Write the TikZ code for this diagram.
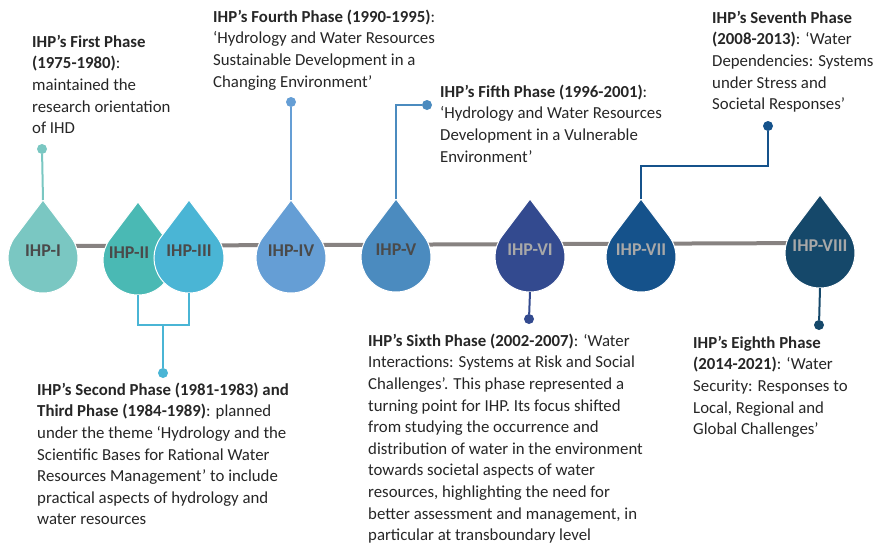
\documentclass[tikz,border=0pt]{standalone}
\usepackage{fontspec}
\setmainfont{Carlito}
\tikzset{
  bodytext/.style={anchor=north west, align=left, inner sep=0pt, text=black!85,
    font=\fontsize{16.8}{21.6}\selectfont},
  droplabel/.style={inner sep=0pt, text=#1, font=\bfseries\fontsize{18}{20}\selectfont},
  pin/.style={circle, fill=#1, inner sep=0pt, minimum size=10pt},
  link/.style={draw=#1, line width=2pt},
  pics/drop/.style={code={
    \fill[#1, draw=white, line width=1pt] (0,-58) -- (27.9,-21.1)
      arc[start angle=-37.1, end angle=217.1, radius=35] -- cycle;
    \coordinate (-c) at (0,-7);
    \coordinate (-tip) at (0,-58);
    \coordinate (-bot) at (0,35);
  }}
}
\newcommand{\firstline}{\rule{0pt}{14pt}}
\begin{document}
\begin{tikzpicture}[x=1pt, y=-1pt]
\useasboundingbox (0,0) rectangle (886,544);
\definecolor{colI}{HTML}{7AC7C2}
\definecolor{colII}{HTML}{4AB9B4}
\definecolor{colIII}{HTML}{4AB5D5}
\definecolor{colIV}{HTML}{659ED5}
\definecolor{colV}{HTML}{4B8BBF}
\definecolor{colVI}{HTML}{334A8F}
\definecolor{colVII}{HTML}{15528B}
\definecolor{colVIII}{HTML}{15486A}
\definecolor{darklbl}{HTML}{4A4A4A}
\definecolor{lightlbl}{HTML}{A8A8A8}
\definecolor{barcol}{HTML}{878281}
% timeline bar
\coordinate (barL) at (43,246);
\coordinate (barR) at (820,243);
\draw[barcol, line width=4pt] (barL) -- (barR);
% drops
\pic (d1) at (43,258) {drop=colI};
\pic (d2) at (138,260) {drop=colII};
\pic (d3) at (189,258) {drop=colIII};
\pic (d4) at (291,258) {drop=colIV};
\pic (d5) at (396,257) {drop=colV};
\pic (d6) at (530,257) {drop=colVI};
\pic (d7) at (641,257) {drop=colVII};
\pic (d8) at (820,253) {drop=colVIII};
% drop labels
\node[droplabel=darklbl] (l1) at (d1-c) {IHP-I};
\node[droplabel=darklbl, xshift=-9pt] (l2) at (d2-c) {IHP-II};
\node[droplabel=darklbl] (l3) at (d3-c) {IHP-III};
\node[droplabel=darklbl] (l4) at (d4-c) {IHP-IV};
\node[droplabel=darklbl] (l5) at (d5-c) {IHP-V};
\node[droplabel=lightlbl] (l6) at (d6-c) {IHP-VI};
\node[droplabel=lightlbl] (l7) at (d7-c) {IHP-VII};
\node[droplabel=lightlbl] (l8) at (d8-c) {IHP-VIII};
% pins
\node[pin=colI] (p1) at (42,149) {};
\node[pin=colIII] (p23) at (163,373) {};
\node[pin=colIV] (p4) at (291,102) {};
\node[pin=colV] (p5) at (427,105) {};
\node[pin=colVI] (p6) at (529,319) {};
\node[pin=colVII] (p7) at (768,126) {};
\node[pin=colVIII] (p8) at (819,325) {};
\coordinate (j23) at (163,325);
\coordinate (k7) at (768,166);
% connectors
\draw[link=colI] (d1-tip) -- (p1);
\draw[link=colIII] (d2-bot) |- (j23) -| (d3-bot);
\draw[link=colIII] (j23) -- (p23);
\draw[link=colIV] (d4-tip) -- (p4);
\draw[link=colV] (d5-tip) |- (p5);
\draw[link=colVI] (d6-bot) -- (p6);
\draw[link=colVII] (d7-tip) |- (k7) -- (p7);
\draw[link=colVIII] (d8-bot) -- (p8);
% texts (top = first baseline - 14)
\node[bodytext] (t1) at (32,33) {\firstline\textbf{IHP’s First Phase}\\\textbf{(1975-1980)}:\\maintained the\\research orientation\\of IHD};
\node[bodytext] (t4) at (213,8) {\firstline\textbf{IHP’s Fourth Phase (1990-1995)}:\\‘Hydrology and Water Resources\\Sustainable Development in a\\Changing Environment’};
\node[bodytext] (t5) at (440,83) {\firstline\textbf{IHP’s Fifth Phase (1996-2001)}:\\‘Hydrology and Water Resources\\Development in a Vulnerable\\Environment’};
\node[bodytext] (t7) at (712,9) {\firstline\textbf{IHP’s Seventh Phase}\\\textbf{(2008-2013)}: ‘Water\\Dependencies: Systems\\under Stress and\\Societal Responses’};
\node[bodytext] (t23) at (37,381) {\firstline\textbf{IHP’s Second Phase (1981-1983) and}\\\textbf{Third Phase (1984-1989)}: planned\\under the theme ‘Hydrology and the\\Scientific Bases for Rational Water\\Resources Management’ to include\\practical aspects of hydrology and\\water resources};
\node[bodytext] (t6) at (368,332) {\firstline\textbf{IHP’s Sixth Phase (2002-2007)}: ‘Water\\Interactions: Systems at Risk and Social\\Challenges’. This phase represented a\\turning point for IHP. Its focus shifted\\from studying the occurrence and\\distribution of water in the environment\\towards societal aspects of water\\resources, highlighting the need for\\better assessment and management, in\\particular at transboundary level};
\node[bodytext] (t8) at (693,334) {\firstline\textbf{IHP’s Eighth Phase}\\\textbf{(2014-2021)}: ‘Water\\Security: Responses to\\Local, Regional and\\Global Challenges’};
\end{tikzpicture}
\end{document}
